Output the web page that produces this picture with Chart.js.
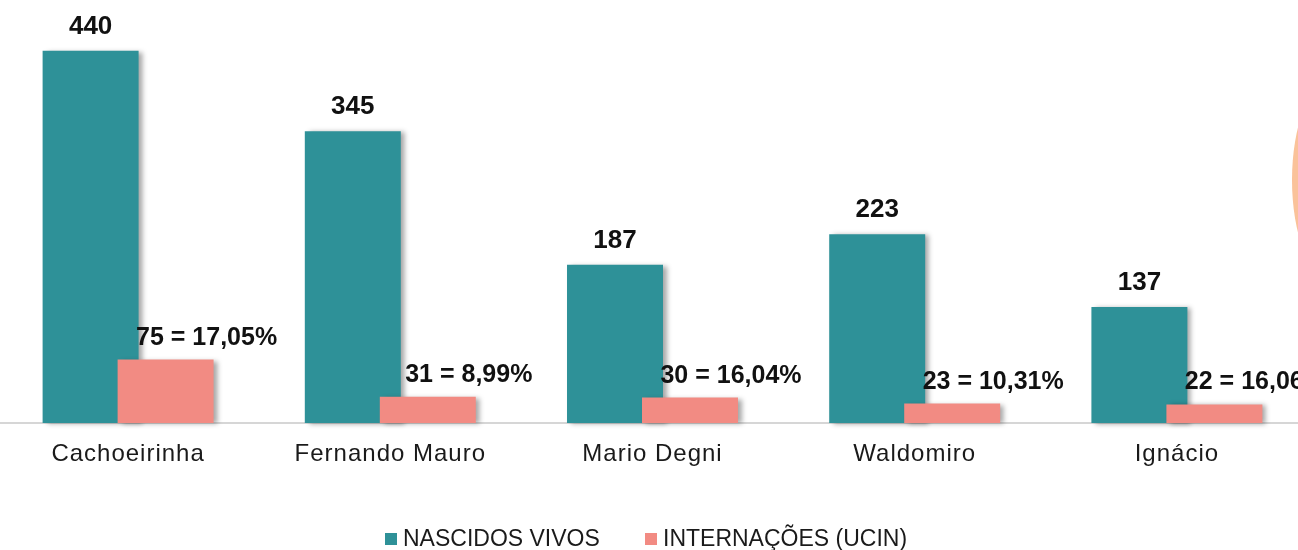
<!DOCTYPE html>
<html>
<head>
<meta charset="utf-8">
<script src="https://cdn.jsdelivr.net/npm/chart.js@4.4.1/dist/chart.umd.min.js"></script>
<style>
  html, body { margin: 0; padding: 0; background: #fff; overflow: hidden; }
  #wrap { position: relative; width: 1298px; height: 550px; overflow: hidden; }
  #chart { position: absolute; left: -3px; top: 0; }
</style>
</head>
<body>
<div id="wrap"><canvas id="chart" width="1311" height="550"></canvas></div>
<script>
// values
const categories = ['Cachoeirinha', 'Fernando Mauro', 'Mario Degni', 'Waldomiro', 'Ignácio'];
const nascidosVivos = [440, 345, 187, 223, 137];
const internacoes = [75, 31, 30, 23, 22];
const internacoesPct = ['17,05', '8,99', '16,04', '10,31', '16,06'];

const TEAL = '#2e9198';
const PINK = '#f28b83';
const FONT = "'Liberation Sans', Arial, sans-serif";

// draw bars in dataset order (pink over teal) with a soft shadow, then the value labels
const barsPlugin = {
  id: 'bars',
  beforeDatasetsDraw(chart) {
    const ctx = chart.ctx;
    ctx.save();
    ctx.shadowColor = 'rgba(0,0,0,0.35)';
    ctx.shadowBlur = 5;
    ctx.shadowOffsetX = 4;
    ctx.shadowOffsetY = 1;
    chart.getSortedVisibleDatasetMetas().forEach(meta => meta.controller.draw());
    ctx.restore();

    ctx.save();
    ctx.letterSpacing = '0px';
    ctx.fillStyle = '#111';
    ctx.textAlign = 'center';
    ctx.textBaseline = 'alphabetic';
    ctx.font = 'bold 26px ' + FONT;
    chart.getDatasetMeta(0).data.forEach((bar, i) => {
      ctx.fillText(String(nascidosVivos[i]), bar.x, bar.y - 17);
    });
    ctx.font = 'bold 25px ' + FONT;
    chart.getDatasetMeta(1).data.forEach((bar, i) => {
      ctx.fillText(internacoes[i] + ' = ' + internacoesPct[i] + '%', bar.x + 41, bar.y - 15);
    });
    ctx.restore();
    return false;
  },
};

// legend drawn by hand so the item spacing can match
const legendPlugin = {
  id: 'customLegend',
  afterDraw(chart) {
    const ctx = chart.ctx;
    ctx.save();
    ctx.letterSpacing = '0px';
    ctx.font = '23px ' + FONT;
    ctx.textBaseline = 'middle';
    ctx.textAlign = 'left';
    const items = chart.data.datasets.map(ds => ({ text: ds.label, color: ds.backgroundColor }));
    const starts = [388, 648];
    items.forEach((it, i) => {
      ctx.fillStyle = it.color;
      ctx.fillRect(starts[i], 533, 12, 12);
      ctx.fillStyle = '#1a1a1a';
      ctx.fillText(it.text, starts[i] + 18, 540);
    });
    ctx.restore();
  },
};

// the orange edge of the slide decoration at the right border
const decoPlugin = {
  id: 'deco',
  beforeDraw(chart) {
    const ctx = chart.ctx;
    ctx.save();
    ctx.fillStyle = '#fac29a';
    ctx.beginPath();
    ctx.ellipse(1335, 180, 40, 100, 0, 0, Math.PI * 2);
    ctx.fill();
    ctx.restore();
    ctx.letterSpacing = '1px';
  },
};

new Chart(document.getElementById('chart'), {
  type: 'bar',
  data: {
    labels: categories,
    datasets: [
      { label: 'NASCIDOS VIVOS', data: nascidosVivos, backgroundColor: TEAL },
      { label: 'INTERNAÇÕES (UCIN)', data: internacoes, backgroundColor: PINK },
    ],
  },
  options: {
    responsive: false,
    animation: false,
    layout: { padding: 0 },
    datasets: { bar: { categoryPercentage: 0.572, barPercentage: 1.28 } },
    plugins: { legend: { display: false }, tooltip: { enabled: false } },
    scales: {
      y: { display: false, min: 0, max: 500 },
      x: {
        grid: { display: false, drawTicks: false },
        border: { display: true, color: '#d6d6d6', width: 2 },
        ticks: { color: '#1a1a1a', padding: 19, font: { family: FONT, size: 24, lineHeight: 1 } },
        afterFit(scale) { scale.height = 127; },
      },
    },
  },
  plugins: [decoPlugin, barsPlugin, legendPlugin],
});
</script>
</body>
</html>
